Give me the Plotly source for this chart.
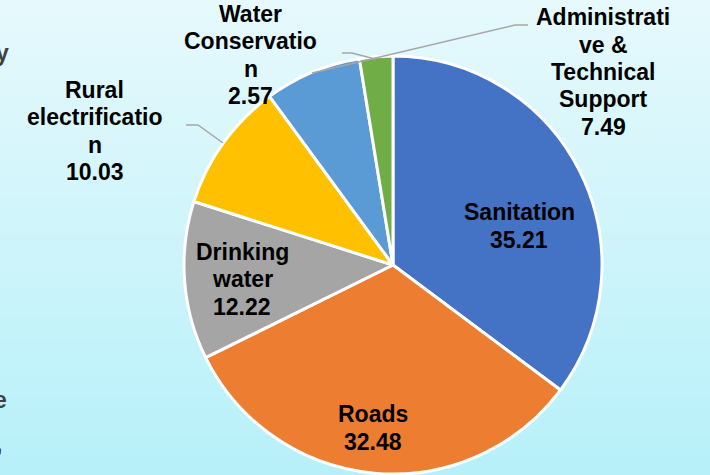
import plotly.graph_objects as go

# ---- data ----
categories = ["Sanitation", "Roads", "Drinking water", "Rural electrification",
              "Administrative & Technical Support", "Water Conservation"]
values = [35.21, 32.48, 12.22, 10.03, 7.49, 2.57]
label_lines = [["Sanitation"], ["Roads"], ["Drinking", "water"],
               ["Rural", "electrificatio", "n"],
               ["Administrati", "ve &", "Technical", "Support"],
               ["Water", "Conservatio", "n"]]
colors = ["#4472C4", "#ED7D31", "#A5A5A5", "#FFC000", "#5B9BD5", "#70AD47"]

W, H = 710, 475
def px(x):
    return x / W
def py(y):
    return 1 - y / H

CX, CY, R = 393, 265, 209

fig = go.Figure()
fig.add_trace(go.Pie(
    labels=categories, values=values, sort=False, direction="clockwise", rotation=0,
    marker=dict(colors=colors, line=dict(color="white", width=3)),
    textinfo="none", hoverinfo="label+value", showlegend=False,
    domain=dict(x=[px(CX - R), px(CX + R)], y=[py(CY + R), py(CY - R)]),
))

# background gradient bands
shapes = []
top = (0xE6, 0xF9, 0xFC)
bot = (0xB7, 0xF0, 0xF9)
n = 95
for i in range(n):
    t = i / (n - 1)
    c = tuple(round(top[k] + (bot[k] - top[k]) * t) for k in range(3))
    shapes.append(dict(type="rect", xref="paper", yref="paper", x0=0, x1=1,
                       y0=1 - (i + 1) / n, y1=1 - i / n, fillcolor="rgb(%d,%d,%d)" % c,
                       line=dict(width=0), layer="below"))

# leader lines
def path(pts):
    return "M " + " L ".join("%f,%f" % (px(x), py(y)) for x, y in pts)
for pts in [[(186, 125), (198, 125), (223, 143)],
            [(342, 53), (352, 53), (375, 59)],
            [(528, 25), (515, 25), (312, 73)]]:
    shapes.append(dict(type="path", xref="paper", yref="paper", path=path(pts),
                       line=dict(color="#A6A6A6", width=1.5)))

# label positions (text block centers, px)
label_pos = [(519, 226), (373, 428), (242, 279), (95, 131), (603, 72), (251, 55)]
LS = 27.5
FONT = dict(family="Liberation Sans, Arial", size=23, color="black")
annotations = []
for lines, val, (x, y) in zip(label_lines, values, label_pos):
    all_lines = lines + ["%.2f" % val]
    k = len(all_lines)
    for i, line in enumerate(all_lines):
        yy = y + (i - (k - 1) / 2) * LS
        annotations.append(dict(x=px(x), y=py(yy), xref="paper", yref="paper",
                                text="<b>%s</b>" % line, showarrow=False,
                                xanchor="center", yanchor="middle", font=FONT))
# clipped slide text at left edge
for t, x, y in [("y", 11, 53), ("e", 9, 400), (",", 4, 444)]:
    annotations.append(dict(x=px(x), y=py(y), xref="paper", yref="paper", text="<b>%s</b>" % t,
                            showarrow=False, xanchor="right", yanchor="middle",
                            font=dict(family="Liberation Sans, Arial", size=23, color="#404040")))

fig.update_layout(width=W, height=H, margin=dict(l=0, r=0, t=0, b=0),
                  paper_bgcolor="#DDF6FB", plot_bgcolor="rgba(0,0,0,0)",
                  shapes=shapes, annotations=annotations)
fig.write_html("out.html", config={"displayModeBar": False},
               post_script="document.body.style.margin='0px';")
